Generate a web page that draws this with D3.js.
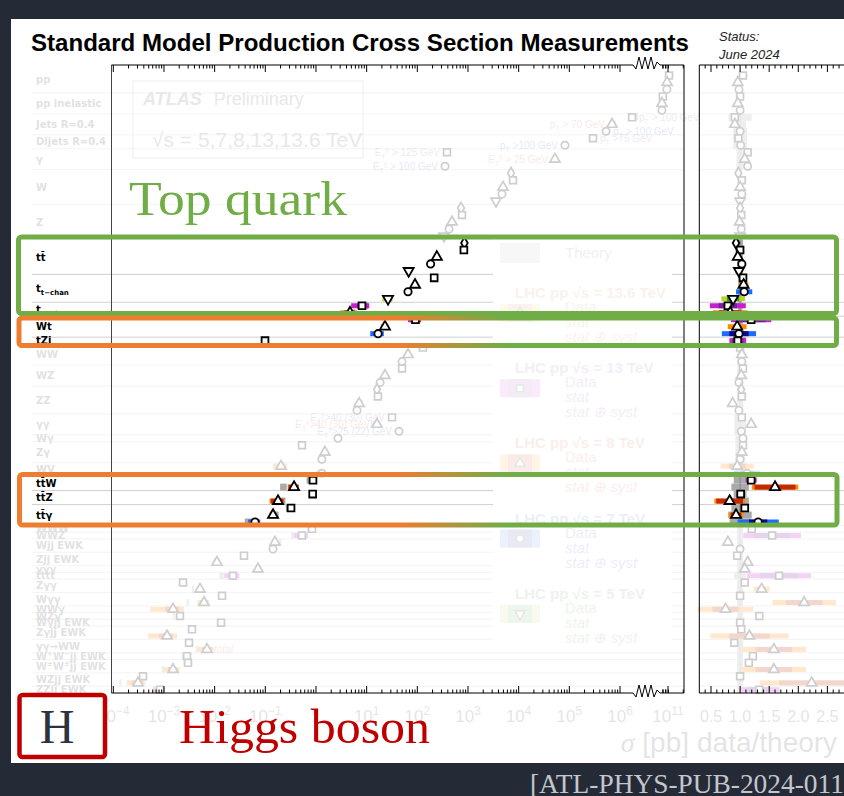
<!DOCTYPE html>
<html>
<head>
<meta charset="utf-8">
<script src="https://cdn.jsdelivr.net/npm/d3@7"></script>
<style>
  html, body { margin: 0; padding: 0; background: #242b36; }
  svg { display: block; }
</style>
</head>
<body>
<svg id="chart" width="844" height="796"></svg>
<script>
// ---------------------------------------------------------------------------
// Data
// ---------------------------------------------------------------------------

// centre-of-mass energies (TeV) and their marker / colour conventions
const energies = ["5", "7", "8", "13", "13.6"];
const energyShape = { "5": "down", "7": "circle", "8": "triangle", "13": "square", "13.6": "diamond" };
const energyOuter = { "5": "#b9d52c", "7": "#1e6bff", "8": "#ff8a00", "13": "#c81ed0", "13.6": "#f2c21b" };
const energyInner = { "5": "#2f9a3a", "7": "#0a0a8a", "8": "#c42a00", "13": "#7a1fa0", "13.6": "#c8702a" };
const energyText  = { "5": "#2f7a2a", "7": "#1e3cb4", "8": "#d04010", "13": "#8a2aa8", "13.6": "#d06a20" };

// process rows, top to bottom, and the number of vertical slots each uses
const rowLabels = [
  "pp", "pp inelastic", "Jets R=0.4", "Dijets R=0.4", "γ", "W", "Z",
  "tt\u0304", "t_{t−chan}", "t_{s−chan}", "Wt", "tZj",
  "WW", "WZ", "ZZ", "γγ", "Wγ", "Zγ", "WV",
  "tt\u0304W", "tt\u0304Z", "tt\u0304γ",
  "WWW", "WWZ", "Wjj EWK", "Zjj EWK", "γγγ", "tttt", "Zγγ", "Wγγ", "WWγ", "WZγ",
  "Wγjj EWK", "Zγjj EWK", "γγ→WW", "W^{+}W^{−}jj EWK", "W^{±}W^{±}jj EWK", "WZjj EWK", "ZZjj EWK"
];
const rowSlots = [
  4, 3, 3, 2, 3, 5, 5,
  5, 4, 2, 3, 1,
  3, 3, 4, 3, 1, 3, 2,
  2, 2, 3,
  1, 1, 2, 2, 1, 1, 2, 2, 1, 1,
  1, 2, 2, 1, 2, 2, 1
];

// top-quark processes
const topQuarkRows = ["tt\u0304", "t_{t−chan}", "t_{s−chan}", "Wt", "tZj", "tt\u0304W", "tt\u0304Z", "tt\u0304γ"];

// measurements: [process, √s, σ (pb), data/theory, total rel. unc., stat rel. unc., theory rel. unc., note, note side]
const measurements = [
  ["pp", "13", 1.05e11, 1.05, 0, 0, 0.03],
  ["pp", "8", 9.6e10, 0.96, 0, 0, 0.03],
  ["pp", "7", 9.5e10, 0.98, 0, 0, 0.03],
  ["pp inelastic", "13", 7.9e10, 1.00, 0, 0, 0.04],
  ["pp inelastic", "8", 7.6e10, 0.96, 0, 0, 0.04],
  ["pp inelastic", "7", 7.6e10, 1.00, 0, 0, 0.04],
  ["Jets R=0.4", "13", 1.73e6, 0.91, 0, 0, 0.2, "p_{T} > 100 GeV", "right"],
  ["Jets R=0.4", "8", 6.95e5, 0.91, 0, 0, 0.1, "p_{T} > 70 GeV", "left"],
  ["Jets R=0.4", "7", 5.3e5, 1.00, 0, 0, 0.12, "p_{T} > 100 GeV", "right"],
  ["Dijets R=0.4", "13", 2.93e5, 0.97, 0, 0, 0.12, "p_{T} >75 GeV", "right"],
  ["Dijets R=0.4", "7", 8.2e4, 1.01, 0, 0, 0.12, "p_{T} >100 GeV", "left"],
  ["γ", "13", 385, 1.13, 0, 0, 0.06, "E_{T}^{γ} > 125 GeV", "left"],
  ["γ", "8", 5.2e4, 1.08, 0, 0, 0.06, "E_{T}^{γ} > 25 GeV", "left"],
  ["γ", "7", 352, 1.13, 0, 0, 0.06, "E_{T}^{γ} > 100 GeV", "left"],
  ["W", "13.6", 7060, 0.97, 0, 0, 0.03],
  ["W", "13", 7730, 1.03, 0, 0, 0.03],
  ["W", "8", 4910, 1.00, 0, 0, 0.03],
  ["W", "7", 4690, 1.03, 0, 0, 0.03],
  ["W", "5", 3570, 1.00, 0, 0, 0.03],
  ["Z", "13.6", 728, 1.00, 0, 0, 0.03],
  ["Z", "13", 762, 1.02, 0, 0, 0.03],
  ["Z", "8", 484, 0.99, 0, 0, 0.03],
  ["Z", "7", 423, 1.02, 0, 0, 0.03],
  ["Z", "5", 336, 1.00, 0, 0, 0.03],

  ["tt\u0304", "13.6", 850, 0.93, 0.04, 0.01, 0.05],
  ["tt\u0304", "13", 830, 1.00, 0.03, 0.01, 0.05],
  ["tt\u0304", "8", 242.9, 0.96, 0.04, 0.01, 0.05],
  ["tt\u0304", "7", 182.9, 1.03, 0.04, 0.01, 0.05],
  ["tt\u0304", "5", 67.5, 0.98, 0.07, 0.03, 0.05],
  ["t_{t−chan}", "13", 215, 1.05, 0.06, 0.02, 0.03],
  ["t_{t−chan}", "8", 90, 1.06, 0.08, 0.02, 0.03],
  ["t_{t−chan}", "7", 65.5, 1.07, 0.13, 0.06, 0.03],
  ["t_{t−chan}", "5", 26.4, 0.88, 0.23, 0.12, 0.03],
  ["t_{s−chan}", "13", 8.1, 0.79, 0.39, 0.2, 0.04],
  ["t_{s−chan}", "8", 4.7, 0.83, 0.36, 0.23, 0.04],
  ["Wt", "13", 92, 1.19, 0.29, 0.21, 0.05],
  ["Wt", "8", 23, 0.95, 0.17, 0.05, 0.05],
  ["Wt", "7", 16.8, 0.98, 0.30, 0.17, 0.05],
  ["tZj", "13", 0.0986, 0.96, 0.15, 0.1, 0.1],

  ["WW", "13", 129, 1.00, 0, 0, 0.05],
  ["WW", "8", 65.5, 1.03, 0, 0, 0.05],
  ["WW", "7", 49.9, 1.03, 0, 0, 0.05],
  ["WZ", "13", 49.9, 1.05, 0, 0, 0.05],
  ["WZ", "8", 23, 1.02, 0, 0, 0.05],
  ["WZ", "7", 18.4, 0.98, 0, 0, 0.05],
  ["ZZ", "13.6", 16, 1.02, 0, 0, 0.05],
  ["ZZ", "13", 16.7, 1.03, 0, 0, 0.05],
  ["ZZ", "8", 7.1, 0.87, 0, 0, 0.05],
  ["ZZ", "7", 6.45, 0.98, 0, 0, 0.05],
  ["γγ", "13", 31.7, 1.03, 0, 0, 0.1, "E_{T}^{γ}>40 (30) GeV", "left"],
  ["γγ", "8", 16, 1.19, 0, 0, 0.1, "E_{T}^{γ}>40 (30) GeV", "left"],
  ["γγ", "7", 43.5, 1.02, 0, 0, 0.1, "E_{T}^{γ}>25 (22) GeV", "left"],
  ["Wγ", "7", 2.72, 1.05, 0, 0, 0.08],
  ["Zγ", "13", 0.53, 1.05, 0, 0, 0.08],
  ["Zγ", "8", 1.5, 1.03, 0, 0, 0.08],
  ["Zγ", "7", 1.31, 1.00, 0, 0, 0.08],
  ["WV", "8", 0.204, 0.95, 0.3, 0.15, 0.1],
  ["WV", "7", 1.31, 1.12, 0.2, 0.1, 0.1],

  ["tt\u0304W", "13", 0.873, 1.19, 0.08, 0.04, 0.11],
  ["tt\u0304W", "8", 0.369, 1.60, 0.25, 0.22, 0.15],
  ["tt\u0304Z", "13", 0.86, 1.01, 0.07, 0.03, 0.11],
  ["tt\u0304Z", "8", 0.178, 0.82, 0.32, 0.28, 0.15],
  ["tt\u0304γ", "13", 0.322, 1.08, 0.05, 0.02, 0.15],
  ["tt\u0304γ", "8", 0.142, 0.93, 0.14, 0.10, 0.2],
  ["tt\u0304γ", "7", 0.0627, 1.31, 0.27, 0.12, 0.18],

  ["WWW", "13", 0.836, 1.20, 0, 0, 0.05],
  ["WWZ", "13", 0.53, 1.55, 0.32, 0.2, 0.05],
  ["Wjj EWK", "8", 0.155, 0.79, 0, 0, 0.05],
  ["Wjj EWK", "7", 0.142, 1.00, 0, 0, 0.05],
  ["Zjj EWK", "13", 0.038, 0.95, 0, 0, 0.05],
  ["Zjj EWK", "8", 0.0111, 1.13, 0, 0, 0.05],
  ["γγγ", "8", 0.0718, 1.08, 0, 0, 0.05],
  ["tttt", "13", 0.023, 1.67, 0.33, 0.2, 0.1],
  ["Zγγ", "13", 0.00238, 1.08, 0, 0, 0.05],
  ["Zγγ", "8", 0.00514, 1.37, 0.1, 0.05, 0.05],
  ["Wγγ", "13", 0.014, 1.00, 0, 0, 0.05],
  ["Wγγ", "8", 0.00617, 2.10, 0.26, 0.15, 0.05],
  ["WWγ", "8", 0.00151, 0.75, 0.64, 0.3, 0.05],
  ["WZγ", "13", 0.00207, 1.33, 0, 0, 0.05],
  ["Wγjj EWK", "13", 0.0134, 1.00, 0, 0, 0.05],
  ["Zγjj EWK", "13", 0.00357, 1.02, 0, 0, 0.05],
  ["Zγjj EWK", "8", 0.00115, 1.16, 0.58, 0.3, 0.05],
  ["γγ→WW", "13", 0.00312, 0.90, 0, 0, 0.05],
  ["γγ→WW", "8", 0.00706, 1.58, 0.35, 0.2, 0.05, "total", "right"],
  ["W^{+}W^{−}jj EWK", "13", 0.00285, 1.22, 0, 0, 0.05],
  ["W^{±}W^{±}jj EWK", "13", 0.00298, 1.15, 0, 0, 0.05],
  ["W^{±}W^{±}jj EWK", "8", 0.00151, 1.58, 0.35, 0.2, 0.05],
  ["WZjj EWK", "13", 0.000386, 1.00, 0, 0, 0.05],
  ["WZjj EWK", "8", 0.000307, 2.23, 0.4, 0.25, 0.05],
  ["ZZjj EWK", "13", 0.000835, 1.33, 0.26, 0.15, 0.05]
];

// axis tick labels
const sigmaDecades = [-4, -3, -2, -1, 0, 1, 2, 3, 4, 5, 6];
const sigmaHighDecades = [11];
const ratioTicks = [0.5, 1.0, 1.5, 2.0, 2.5];

// legend entries
const legendBlocks = ["13.6", "13", "8", "7", "5"];

// ---------------------------------------------------------------------------
// Layout and scales
// ---------------------------------------------------------------------------
const W = 844, H = 796;
const plotTop = 65, plotBottom = 693;
const mainLeft = 111.5, mainRight = 684, ratioLeft = 699.3, panelRight = 844;
const breakStart = 633, breakEnd = 660;

const SANS = "'Liberation Sans', Arial, Helvetica, sans-serif";
const LABEL = "'DejaVu Sans', sans-serif";
const SERIF = "'Liberation Serif', 'DejaVu Serif', serif";

const xLow = d3.scaleLog().domain([1e-4, 1e6]).range([113.3, 620]);
const xHigh = d3.scaleLog().domain([1e10, 1e11]).range([617.3, 668]);
const xMain = v => (v > 1e8 ? xHigh(v) : xLow(v));
const xRatio = d3.scaleLinear().domain([0.5, 2.5]).range([711, 827.4]);
// vertical slot scale: upper block, top/diboson block, rare-process block
const ySlot = d3.scaleLinear().domain([0, 25, 66, 91]).range([plotTop, 239.5, 525.5, plotBottom]);

const rowStart = [];
rowSlots.reduce((acc, s, i) => { rowStart[i] = acc; return acc + s; }, 0);
const rowIndex = new Map(rowLabels.map((r, i) => [r, i]));
const isTop = r => topQuarkRows.includes(r);
const isFaded = r => !topQuarkRows.includes(r);

// place each measurement in its row (bottom aligned)
const byRow = d3.group(measurements, m => m[0]);
const placed = [];
byRow.forEach((list, row) => {
  const ri = rowIndex.get(row);
  const n = list.length, s = rowSlots[ri];
  list.forEach((m, i) => {
    placed.push({
      row, e: m[1], v: m[2], r: m[3], tot: m[4], stat: m[5], th: m[6], note: m[7], side: m[8],
      y: ySlot(rowStart[ri] + (s - n) + i + 0.5)
    });
  });
});
const slotH = ySlot(26) - ySlot(25);

// ---------------------------------------------------------------------------
// Helpers
// ---------------------------------------------------------------------------
function richText(sel, str, size) {
  const parts = [];
  let i = 0;
  while (i < str.length) {
    const c = str[i];
    if ((c === "_" || c === "^") && i + 1 < str.length) {
      let t;
      if (str[i + 1] === "{") { const j = str.indexOf("}", i + 2); t = str.slice(i + 2, j); i = j + 1; }
      else { t = str[i + 1]; i += 2; }
      parts.push({ t, k: c });
    } else {
      let j = i;
      while (j < str.length && str[j] !== "_" && str[j] !== "^") j++;
      parts.push({ t: str.slice(i, j), k: "" });
      i = j;
    }
  }
  let shift = 0;
  parts.forEach(p => {
    const target = p.k === "_" ? size * 0.3 : p.k === "^" ? -size * 0.42 : 0;
    sel.append("tspan").attr("dy", target - shift)
      .attr("font-size", p.k ? size * 0.7 : size).text(p.t);
    shift = target;
  });
  return sel;
}

function marker(g, e, cx, cy, sw) {
  const shape = energyShape[e];
  const type = { square: d3.symbolSquare, circle: d3.symbolCircle, triangle: d3.symbolTriangle,
                 down: d3.symbolTriangle, diamond: d3.symbolDiamond }[shape];
  const size = { square: 46, circle: 42, triangle: 44, down: 44, diamond: 38 }[shape];
  g.append("path")
    .attr("d", d3.symbol(type, size)())
    .attr("transform", `translate(${cx},${cy})${shape === "down" ? " rotate(180)" : ""}`)
    .attr("fill", "#fff").attr("stroke", "#000").attr("stroke-width", sw);
}

function hbar(g, x0, x1, y, h, fill) {
  g.append("rect").attr("x", Math.min(x0, x1)).attr("y", y - h / 2)
    .attr("width", Math.abs(x1 - x0)).attr("height", h).attr("fill", fill);
}

function sepSegments(y) {
  const segs = (y > 238 && y < 650) ? [[32, 493], [672, mainRight]] : [[32, mainRight]];
  segs.push([ratioLeft, panelRight]);
  return segs;
}

function drawRows(g, keep, sepColor, labelColor, sw) {
  const topLayer = keep === isTop;
  // row separators: a boundary belongs to the top-quark layer only when both neighbours are top-quark rows
  for (let i = 1; i < rowLabels.length; i++) {
    const both = isTop(rowLabels[i - 1]) && isTop(rowLabels[i]);
    if (both !== topLayer) continue;
    const y = ySlot(rowStart[i]);
    sepSegments(y).forEach(([a, b]) => {
      g.append("line").attr("x1", a).attr("x2", b).attr("y1", y).attr("y2", y)
        .attr("stroke", sepColor).attr("stroke-width", 1);
    });
  }
  // row labels
  rowLabels.forEach((r, i) => {
    if (!keep(r)) return;
    const yc = ySlot(rowStart[i] + rowSlots[i] / 2);
    const t = g.append("text").attr("x", 36).attr("y", yc + 3.6)
      .attr("font-family", LABEL).attr("font-weight", "bold").attr("fill", labelColor);
    richText(t, r, 10);
  });
  const ms = placed.filter(m => keep(m.row));
  // theory bands
  ms.forEach(m => {
    if (!m.th) return;
    const tv = m.v / m.r;
    hbar(g, xMain(tv * (1 - m.th)), xMain(tv * (1 + m.th)), m.y, slotH, "#aaaaaa");
    hbar(g, xRatio(1 - m.th), xRatio(1 + m.th), m.y, slotH, "#aaaaaa");
  });
  // ratio = 1 reference within the rows
  rowLabels.forEach((r, i) => {
    if (!keep(r)) return;
    g.append("line").attr("x1", xRatio(1)).attr("x2", xRatio(1))
      .attr("y1", ySlot(rowStart[i])).attr("y2", ySlot(rowStart[i] + rowSlots[i]))
      .attr("stroke", "#888").attr("stroke-width", 1);
  });
  // uncertainty bars
  ms.forEach(m => {
    if (!m.tot) return;
    hbar(g, xMain(m.v * (1 - m.tot)), xMain(m.v * (1 + m.tot)), m.y, 5, energyOuter[m.e]);
    hbar(g, xMain(m.v * (1 - m.stat)), xMain(m.v * (1 + m.stat)), m.y, 5, energyInner[m.e]);
    hbar(g, xRatio(m.r * (1 - m.tot)), xRatio(m.r * (1 + m.tot)), m.y, 5, energyOuter[m.e]);
    hbar(g, xRatio(m.r * (1 - m.stat)), xRatio(m.r * (1 + m.stat)), m.y, 5, energyInner[m.e]);
  });
  // markers and annotations
  ms.forEach(m => {
    marker(g, m.e, xMain(m.v), m.y, sw);
    marker(g, m.e, xRatio(m.r), m.y, sw);
    if (m.note) {
      const right = m.side === "right";
      const t = g.append("text")
        .attr("x", xMain(m.v) + (right ? 7 : -7)).attr("y", m.y + 3.5)
        .attr("text-anchor", right ? "start" : "end")
        .attr("font-family", SANS).attr("font-style", m.note === "total" ? "italic" : "normal")
        .attr("fill", energyText[m.e]).attr("opacity", 0.6);
      richText(t, m.note, 10);
    }
  });
}

// ---------------------------------------------------------------------------
// Drawing
// ---------------------------------------------------------------------------
const svg = d3.select("#chart");
svg.append("rect").attr("width", W).attr("height", H).attr("fill", "#242b36");
svg.append("rect").attr("x", 11).attr("y", 19).attr("width", W - 11).attr("height", 744).attr("fill", "#fff");

// title and status
svg.append("text").attr("x", 31).attr("y", 51)
  .attr("font-family", SANS).attr("font-weight", "bold").attr("font-size", 24)
  .attr("textLength", 658).attr("lengthAdjust", "spacingAndGlyphs").attr("fill", "#000")
  .text("Standard Model Production Cross Section Measurements");
svg.append("text").attr("x", 719).attr("y", 41).attr("font-family", SANS)
  .attr("font-style", "italic").attr("font-size", 13).attr("fill", "#222").text("Status:");
svg.append("text").attr("x", 719).attr("y", 59).attr("font-family", SANS)
  .attr("font-style", "italic").attr("font-size", 13).attr("fill", "#222").text("June 2024");

// ---- background (de-emphasised) layer ----
const fadedLayer = svg.append("g").attr("opacity", 0.19);
drawRows(fadedLayer, isFaded, "#c8c8c8", "#666", 1.7);

// ATLAS label box
fadedLayer.append("rect").attr("x", 133).attr("y", 81).attr("width", 230).attr("height", 77)
  .attr("fill", "none").attr("stroke", "#aaa").attr("stroke-width", 1);
const atl = fadedLayer.append("text").attr("x", 143).attr("y", 105).attr("font-family", SANS)
  .attr("font-size", 18).attr("fill", "#888");
atl.append("tspan").attr("font-weight", "bold").attr("font-style", "italic").text("ATLAS");
atl.append("tspan").attr("dx", 12).text("Preliminary");
fadedLayer.append("text").attr("x", 152).attr("y", 147).attr("font-family", SANS)
  .attr("font-size", 21).attr("fill", "#888").text("√s = 5,7,8,13,13.6 TeV");

// legend (white backing hides the row separators behind it)
fadedLayer.append("rect").attr("x", 493).attr("y", 238).attr("width", 179).attr("height", 412).attr("fill", "#fff");
const legend = fadedLayer.append("g").attr("opacity", 0.45);
legend.append("rect").attr("x", 500).attr("y", 243).attr("width", 40).attr("height", 20).attr("fill", "#aaaaaa");
legend.append("text").attr("x", 565).attr("y", 258).attr("font-family", SANS).attr("font-size", 15)
  .attr("fill", "#555").text("Theory");
legendBlocks.forEach((e, k) => {
  const ty = 293 + k * 75.2;
  legend.append("text").attr("x", 515).attr("y", ty + 5).attr("font-family", SANS)
    .attr("font-weight", "bold").attr("font-size", 15).attr("fill", energyText[e])
    .text(`LHC pp  √s = ${e} TeV`);
  legend.append("rect").attr("x", 500).attr("y", ty + 11).attr("width", 40).attr("height", 18).attr("fill", energyOuter[e]);
  legend.append("rect").attr("x", 508).attr("y", ty + 11).attr("width", 24).attr("height", 18).attr("fill", energyInner[e]);
  marker(legend, e, 520, ty + 20, 1.7);
  legend.append("text").attr("x", 565).attr("y", ty + 19).attr("font-family", SANS).attr("font-size", 15)
    .attr("fill", energyText[e]).text("Data");
  legend.append("text").attr("x", 565).attr("y", ty + 34).attr("font-family", SANS).attr("font-size", 15)
    .attr("font-style", "italic").attr("fill", energyText[e]).text("stat");
  legend.append("text").attr("x", 565).attr("y", ty + 49).attr("font-family", SANS).attr("font-size", 15)
    .attr("font-style", "italic").attr("fill", energyText[e]).text("stat ⊕ syst");
});

// axis tick labels and titles
sigmaDecades.forEach(d => {
  const t = fadedLayer.append("text").attr("x", xLow(Math.pow(10, d))).attr("y", 722)
    .attr("text-anchor", "middle").attr("font-family", SANS).attr("fill", "#777");
  richText(t, d === 0 ? "1" : `10^{${d < 0 ? "−" + (-d) : d}}`, 17);
});
sigmaHighDecades.forEach(d => {
  const t = fadedLayer.append("text").attr("x", xHigh(Math.pow(10, d))).attr("y", 722)
    .attr("text-anchor", "middle").attr("font-family", SANS).attr("fill", "#777");
  richText(t, `10^{${d}}`, 17);
});
ratioTicks.forEach(r => {
  fadedLayer.append("text").attr("x", xRatio(r)).attr("y", 722).attr("text-anchor", "middle")
    .attr("font-family", SANS).attr("font-size", 16).attr("fill", "#777").text(r.toFixed(1));
});
const sx = fadedLayer.append("text").attr("x", 689).attr("y", 752).attr("text-anchor", "end")
  .attr("font-size", 28).attr("fill", "#777");
sx.append("tspan").attr("font-family", SERIF).attr("font-style", "italic").text("σ");
sx.append("tspan").attr("font-family", SANS).text(" [pb]");
fadedLayer.append("text").attr("x", 697).attr("y", 752).attr("font-family", SANS).attr("font-size", 28)
  .attr("fill", "#777").text("data/theory");

// ---- top-quark processes ----
const topLayer = svg.append("g");
drawRows(topLayer, isTop, "#cfcfcf", "#000", 1.8);

// ---- frames and ticks ----
const frame = svg.append("g").attr("fill", "none").attr("stroke", "#000").attr("stroke-width", 1);
frame.append("line").attr("x1", mainLeft).attr("x2", mainLeft).attr("y1", plotTop).attr("y2", plotBottom).attr("stroke", "#444");
frame.append("line").attr("x1", mainRight).attr("x2", mainRight).attr("y1", plotTop).attr("y2", plotBottom);
frame.append("line").attr("x1", ratioLeft).attr("x2", ratioLeft).attr("y1", plotTop).attr("y2", plotBottom);
const zig = [[0, 0], [3, 4], [6, -8], [9, 4], [12, -8], [15, 4], [18, -8], [21, 4], [24, -3], [27, 0]];
[plotTop, plotBottom].forEach(yy => {
  frame.append("line").attr("x1", mainLeft).attr("x2", breakStart).attr("y1", yy).attr("y2", yy);
  frame.append("path").attr("d", d3.line()(zig.map(([dx, dy]) => [breakStart + dx, yy + dy])));
  frame.append("line").attr("x1", breakEnd).attr("x2", mainRight).attr("y1", yy).attr("y2", yy);
  frame.append("line").attr("x1", ratioLeft).attr("x2", panelRight).attr("y1", yy).attr("y2", yy);
});

// main panel log ticks
const mainTicks = [];
sigmaDecades.forEach(d => {
  for (let m = 1; m <= 9; m++) mainTicks.push({ v: m * Math.pow(10, d), major: m === 1, hi: false });
});
[8e10, 9e10, 1e11, 2e11].forEach(v => mainTicks.push({ v, major: v === 1e11, hi: true }));
mainTicks.forEach(t => {
  const x = t.hi ? xHigh(t.v) : xLow(t.v);
  if (x < mainLeft + 1 || x > mainRight - 0.5) return;
  if (x > breakStart - 1 && x < breakEnd + 2) return;
  const len = t.major ? 7 : 3.5;
  frame.append("line").attr("x1", x).attr("x2", x).attr("y1", plotTop).attr("y2", plotTop + len);
  frame.append("line").attr("x1", x).attr("x2", x).attr("y1", plotBottom).attr("y2", plotBottom - len);
});
// ratio panel ticks
d3.range(3, 30).forEach(k => {
  const r = k / 10, x = xRatio(r);
  if (x < ratioLeft + 1 || x > panelRight) return;
  const len = (k % 5 === 0) ? 7 : 3.5;
  frame.append("line").attr("x1", x).attr("x2", x).attr("y1", plotTop).attr("y2", plotTop + len);
  frame.append("line").attr("x1", x).attr("x2", x).attr("y1", plotBottom).attr("y2", plotBottom - len);
});

// ---- highlight boxes ----
const defs = svg.append("defs");
const grad = defs.append("linearGradient").attr("id", "og").attr("gradientUnits", "userSpaceOnUse")
  .attr("x1", 0).attr("x2", W).attr("y1", 0).attr("y2", 0);
grad.append("stop").attr("offset", 400 / W).attr("stop-color", "#ED7D31");
grad.append("stop").attr("offset", 505 / W).attr("stop-color", "#70AD47");

svg.append("rect").attr("x", 18.5).attr("y", 237).attr("width", 818).attr("height", 76.5)
  .attr("rx", 3).attr("fill", "none").attr("stroke", "#70AD47").attr("stroke-width", 5);
svg.append("rect").attr("x", 19).attr("y", 318).attr("width", 817.5).attr("height", 27.5)
  .attr("rx", 3).attr("fill", "none").attr("stroke", "url(#og)").attr("stroke-width", 5);
svg.append("rect").attr("x", 19.5).attr("y", 474.5).attr("width", 817.5).attr("height", 50.5)
  .attr("rx", 3).attr("fill", "none").attr("stroke", "url(#og)").attr("stroke-width", 5);

svg.append("text").attr("x", 129).attr("y", 215).attr("font-family", SERIF).attr("font-size", 48)
  .attr("textLength", 218).attr("lengthAdjust", "spacingAndGlyphs").attr("fill", "#70AD47").text("Top quark");

// Higgs boson tag
svg.append("rect").attr("x", 19.5).attr("y", 695).attr("width", 85.5).attr("height", 62)
  .attr("rx", 3).attr("fill", "#fff").attr("stroke", "#C00000").attr("stroke-width", 4.5);
svg.append("text").attr("x", 57).attr("y", 743).attr("text-anchor", "middle").attr("font-family", SERIF)
  .attr("font-size", 48).attr("fill", "#2b3340").text("H");
svg.append("text").attr("x", 179).attr("y", 743).attr("font-family", SERIF).attr("font-size", 48)
  .attr("textLength", 251).attr("lengthAdjust", "spacingAndGlyphs").attr("fill", "#C00000").text("Higgs boson");

// reference
svg.append("text").attr("x", 530).attr("y", 793).attr("font-family", SERIF).attr("font-size", 28)
  .attr("textLength", 323).attr("lengthAdjust", "spacingAndGlyphs").attr("fill", "#c3c6cc")
  .text("[ATL-PHYS-PUB-2024-011]");
</script>
</body>
</html>
